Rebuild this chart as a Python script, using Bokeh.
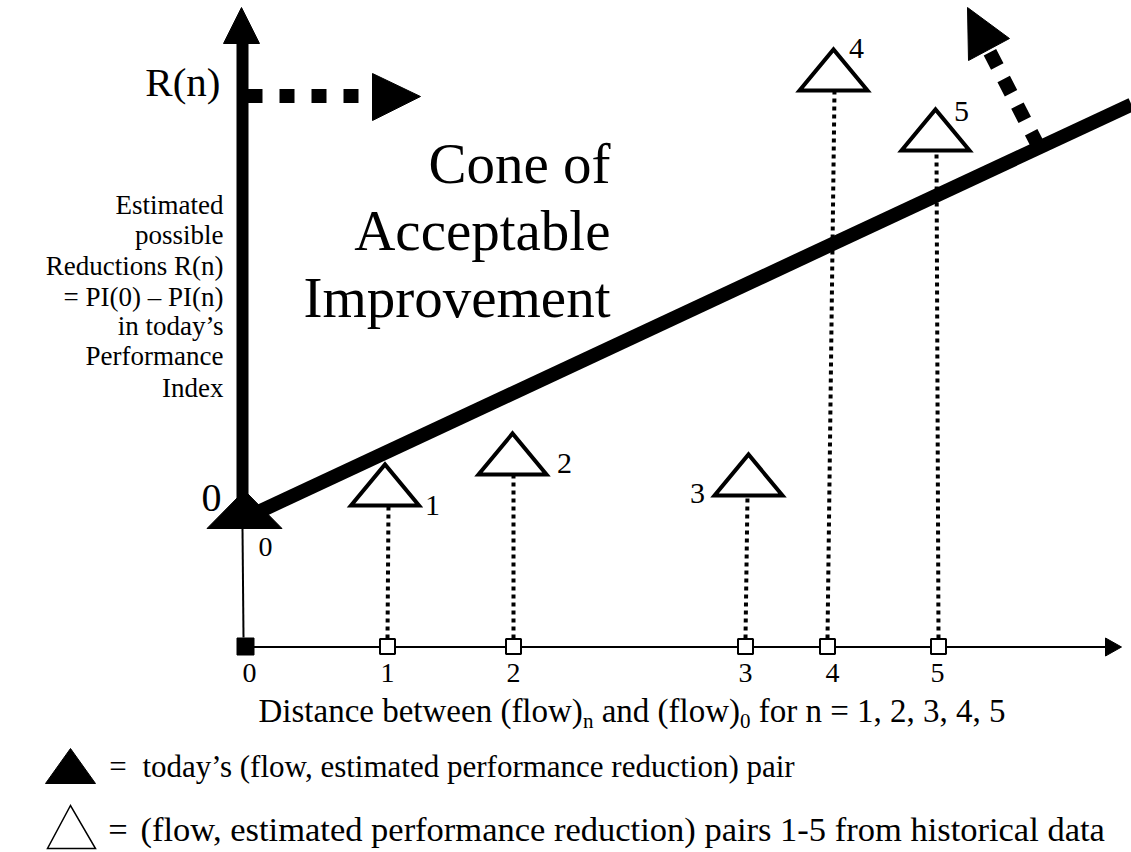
from bokeh.plotting import figure
from bokeh.models import Range1d
from bokeh.embed import file_html
from bokeh.resources import INLINE
from bokeh.core.properties import value

FONT = "Liberation Serif"

# ---- data (chart units: x = distance between flows, y = estimated reduction R(n)) ----
flow_ticks = ["0", "1", "2", "3", "4", "5"]
flow_dist = [0, 142, 268, 500, 582, 693]          # points on the distance axis
tick_label_x = [4, 142, 268, 500, 587, 692]
hist_labels = ["1", "2", "3", "4", "5"]
hist_tri_x = [139.5, 267, 503, 588, 690]          # historical pairs (flow, reduction)
hist_reduction = [141, 172, 151, 556, 496]
hist_drop_top_x = [143, 268, 502, 589, 691]
hist_label_x = [187, 319, 452, 611, 716]
hist_label_y = [129, 171, 141, 586, 523]
today_x = -1                                      # today's pair
today_reduction = 118
cone_x = [3, 886]                                 # cone of acceptable improvement boundary
cone_y = [130, 542]

y_label_lines = ["Estimated", "possible", "Reductions R(n)", "= PI(0) \u2013 PI(n)",
                 "in today\u2019s", "Performance", "Index"]
y_label_base = [430, 400, 369, 338, 309, 279, 247]
cone_lines = ["Cone of", "Acceptable", "Improvement"]
cone_base = [463, 396, 329]
legend_texts = ["today\u2019s (flow, estimated performance reduction) pair",
                "(flow, estimated performance reduction) pairs 1-5 from historical data"]
legend_base = [-132, -196]
legend_text_x = [-103, -105]
legend_sizes = [31, 34.5]

TRI_W, TRI_H = 68, 41
TODAY_W, TODAY_H = 75, 38

# Times/Liberation Serif advance widths (per 1000 em) for chaining caption pieces
W = {' ': 250, '(': 333, ')': 333, 'a': 444, 'b': 500, 'c': 444, 'd': 500, 'e': 444,
     'f': 333, 'h': 500, 'i': 278, 'l': 278, 'm': 778, 'n': 500, 'o': 500, 'r': 333,
     's': 389, 't': 278, 'u': 500, 'w': 722, 'D': 722, ',': 250, '=': 564, '0': 500,
     '1': 500, '2': 500, '3': 500, '4': 500, '5': 500}


def tw(s, size):
    return sum(W.get(ch, 500) for ch in s) * size / 1000.0


p = figure(width=1131, height=852, x_range=Range1d(-245, 886), y_range=Range1d(-206, 646),
           output_backend="svg", toolbar_location=None, min_border=0,
           x_axis_location=None, y_axis_location=None)
p.grid.visible = False
p.outline_line_color = None
p.background_fill_color = "white"
p.border_fill_color = "white"

# distance axis
p.line([0, 860], [-0.5, -0.5], line_color="black", line_width=2)
p.patch([860, 860, 876], [8.5, -9.5, -0.5], color="black")

# thin link from today's pair to origin
p.line([today_x - 2, today_x - 1], [today_reduction, 9], line_color="black", line_width=2)

# dotted drop lines
for tx, sx, r in zip(hist_drop_top_x, flow_dist[1:], hist_reduction):
    p.line([sx, tx], [8, r], line_color="black", line_width=4, line_dash="4 4")

# squares on axis
p.scatter(flow_dist[1:], [0] * 5, marker="square", size=15, fill_color="white",
          line_color="black", line_width=2)
p.scatter([flow_dist[0]], [0], marker="square", size=17, fill_color="black", line_color="black")

# cone boundary line
p.line(cone_x, cone_y, line_color="black", line_width=14)

# thick vertical R axis with arrow
p.line([-3, -3], [130, 606], line_color="black", line_width=12)
p.patch([-22, 14, -4], [603, 603, 639], color="black")

# dotted arrow to the right at R(n)
p.line([2, 113], [550.5, 550.5], line_color="black", line_width=14, line_dash="15 17")
p.patch([127, 127, 175], [573, 526, 550], color="black")

# dotted arrow perpendicular to cone line
p.line([793, 743], [500, 597], line_color="black", line_width=14, line_dash="16 14")
p.patch([722, 764, 723], [639, 608, 586], color="black")

# historical triangles
xs = [[x - TRI_W / 2, x + TRI_W / 2, x] for x in hist_tri_x]
ys = [[r, r, r + TRI_H] for r in hist_reduction]
p.patches(xs, ys, fill_color="white", line_color="black", line_width=4, line_join="miter")

# today's triangle
p.patch([today_x - TODAY_W / 2, today_x + TODAY_W / 2, today_x],
        [today_reduction, today_reduction, today_reduction + TODAY_H], color="black")


def txt(x, y, t, size, align="left"):
    # shift to compensate the renderer's baseline placement
    corr = 0.3 * size + 3
    p.text(x=x, y=[v + corr for v in y], text=t, text_font=value(FONT),
           text_font_size=f"{size}px", text_align=align, text_baseline="alphabetic",
           text_color="black")


txt(tick_label_x, [-38] * 6, flow_ticks, 28, "center")
txt(hist_label_x, hist_label_y, hist_labels, 30, "center")
txt([-34], [134], ["0"], 40, "center")
txt([20], [88], ["0"], 28, "center")
txt([-25], [549], ["R(n)"], 41, "right")
txt([-22] * len(y_label_lines), y_label_base, y_label_lines, 27, "right")
txt([365] * 3, cone_base, cone_lines, 57, "right")

# caption with subscripts (spaces added as offsets, since SVG trims them)
CAP, SUB = 33, 21
x0, yb = 13, -77
pieces = [("Distance between (flow)", CAP, 0, 0), ("n", SUB, -7, 0),
          ("and (flow)", CAP, 0, tw(" ", CAP)), ("0", SUB, -7, 0),
          ("for n = 1, 2, 3, 4, 5", CAP, 0, tw(" ", CAP))]
cx = x0
for s, size, dy, gap in pieces:
    cx += gap
    txt([cx], [yb + dy], [s], size, "left")
    cx += tw(s, size)

# legend
p.patch([-200, -150, -175], [-137, -137, -102], color="black")
p.patch([-198, -150, -175], [-202, -202, -159], fill_color="white", line_color="black",
        line_width=1.5, line_join="miter")
for lx, lb, lt, ls in zip(legend_text_x, legend_base, legend_texts, legend_sizes):
    txt([-127.5], [lb], ["="], ls, "center")
    txt([lx], [lb], [lt], ls, "left")

open("out.html", "w").write(file_html(p, INLINE))
